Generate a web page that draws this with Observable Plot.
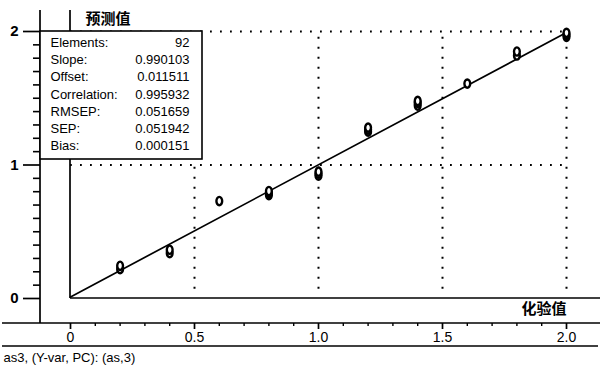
<!DOCTYPE html>
<html>
<head>
<meta charset="utf-8">
<script src="https://cdn.jsdelivr.net/npm/d3@7"></script>
<script src="https://cdn.jsdelivr.net/npm/@observablehq/plot@0.6"></script>
<style>
  html, body { margin: 0; padding: 0; background: #fff; }
</style>
</head>
<body>
<div id="chart"></div>
<script>
// ---- data ----
const measured  = [0.2, 0.2, 0.4, 0.4, 0.6, 0.8, 0.8, 0.8, 1.0, 1.0, 1.0, 1.2, 1.2, 1.2, 1.4, 1.4, 1.4, 1.6, 1.8, 1.8, 2.0, 2.0, 2.0];
const predicted = [0.22, 0.245, 0.34, 0.365, 0.73, 0.775, 0.79, 0.805, 0.92, 0.935, 0.95, 1.25, 1.265, 1.28, 1.445, 1.465, 1.48, 1.61, 1.82, 1.85, 1.96, 1.975, 1.99];

const statLabels = ["Elements:", "Slope:", "Offset:", "Correlation:", "RMSEP:", "SEP:", "Bias:"];
const statValues = ["92", "0.990103", "0.011511", "0.995932", "0.051659", "0.051942", "0.000151"];
const slope = 0.990103, offset = 0.011511;

const xMajor = [0, 0.5, 1.0, 1.5, 2.0];
const xMinor = [0.1,0.2,0.3,0.4,0.6,0.7,0.8,0.9,1.1,1.2,1.3,1.4,1.6,1.7,1.8,1.9];
const yMajor = [0, 1, 2];
const yMinor = [0.1,0.2,0.3,0.4,0.5,0.6,0.7,0.8,0.9,1.1,1.2,1.3,1.4,1.5,1.6,1.7,1.8,1.9];
const xGrid = [0.5, 1.0, 1.5, 2.0];
const yGrid = [1, 2];
const fitEnds = [0, 2];

const yTitle = "预测值";
const xTitle = "化验值";
const footer = "as3, (Y-var, PC): (as,3)";

const points = measured.map((m, i) => ({m, p: predicted[i]}));

const ellipse = {
  draw(ctx, size) {
    const r = Math.sqrt(size / Math.PI);
    const rx = r * 0.8, ry = r * 1.15, k = 0.5523;
    ctx.moveTo(rx, 0);
    ctx.bezierCurveTo(rx, ry * k, rx * k, ry, 0, ry);
    ctx.bezierCurveTo(-rx * k, ry, -rx, ry * k, -rx, 0);
    ctx.bezierCurveTo(-rx, -ry * k, -rx * k, -ry, 0, -ry);
    ctx.bezierCurveTo(rx * k, -ry, rx, -ry * k, rx, 0);
    ctx.closePath();
  }
};

function chrome(index, scales, values, dimensions) {
  const X = scales.x, Y = scales.y;
  const x0 = X(0), y0 = Y(0), W = dimensions.width;
  const g = d3.create("svg:g").attr("stroke", "black").attr("stroke-width", 1.7).attr("fill", "none");
  const seg = (a, b, c, d) => g.append("line").attr("x1", a).attr("y1", b).attr("x2", c).attr("y2", d);
  seg(x0, 10, x0, y0);
  seg(x0, y0, W, y0);
  seg(x0 - 30, 10, x0 - 30, y0 + 25);
  seg(2, y0 + 25, W, y0 + 25);
  seg(2, y0 + 48, W - 2, y0 + 48);
  return g.node();
}

function statBox(index, scales, values, dimensions) {
  const X = scales.x, Y = scales.y;
  const g = d3.create("svg:g");
  g.append("rect")
    .attr("x", X(0) - 30).attr("y", Y(2))
    .attr("width", 162).attr("height", 128)
    .attr("fill", "white").attr("stroke", "black").attr("stroke-width", 1.6);
  return g.node();
}

const font = "Liberation Sans, Arial, sans-serif";
const cjk = "'Noto Sans CJK SC', sans-serif";

const marks = [
  Plot.ruleY(yGrid, {x1: 0, x2: 2, stroke: "black", strokeWidth: 2, strokeDasharray: "1.8,8.2"}),
  Plot.ruleX(xGrid, {y1: 0.07, y2: 2, stroke: "black", strokeWidth: 2, strokeDasharray: "1.8,8.2"}),
  chrome,
  Plot.axisY(yMajor, {anchor: "left", label: null, tickSize: 17, tickPadding: 5, dx: -30, fontSize: 15, fontWeight: "bold", fill: "black", strokeWidth: 1.7, tickFormat: d => String(d)}),
  Plot.axisY(yMinor, {anchor: "left", label: null, tickSize: 7, dx: -30, text: null, strokeWidth: 1.6}),
  Plot.axisX(xMajor, {anchor: "bottom", label: null, tickSize: 6, tickPadding: 3, dy: 25, fontSize: 14, fill: "black", strokeWidth: 1.7, tickFormat: d => d === 0 ? "0" : d.toFixed(1)}),
  Plot.axisX(xMinor, {anchor: "bottom", label: null, tickSize: 3, dy: 25, text: null, strokeWidth: 1.4}),
  Plot.line(fitEnds, {x: d => d, y: d => offset + slope * d, stroke: "black", strokeWidth: 1.7}),
  Plot.dot(points, {x: "m", y: "p", r: 3.6, symbol: ellipse, stroke: "black", strokeWidth: 2.4, fill: "white"}),
  statBox,
  ...statLabels.map((l, i) => Plot.text([l], {frameAnchor: "top-left", dx: -20, dy: 11 + i * 17.3, textAnchor: "start", lineAnchor: "middle", fontSize: 13, fill: "black", fontFamily: font, letterSpacing: "-0.3px"})),
  ...statValues.map((v, i) => Plot.text([v], {frameAnchor: "top-left", dx: 119, dy: 11 + i * 17.3, textAnchor: "end", lineAnchor: "middle", fontSize: 13, fill: "black", fontFamily: font})),
  Plot.text([yTitle], {frameAnchor: "top-left", dx: 15, dy: -12, textAnchor: "start", lineAnchor: "middle", fontSize: 15, fontWeight: "bold", fontFamily: cjk, fill: "black"}),
  Plot.text([xTitle], {frameAnchor: "bottom-right", dx: 0, dy: 11, textAnchor: "end", lineAnchor: "middle", fontSize: 15, fontWeight: "bold", fontFamily: cjk, fill: "black"}),
  Plot.text([footer], {frameAnchor: "bottom-left", dx: -67, dy: 59, textAnchor: "start", lineAnchor: "middle", fontSize: 13, fontFamily: font, fill: "black"})
];

const chart = Plot.plot({
  width: 600,
  height: 373,
  marginLeft: 70,
  marginRight: 34,
  marginTop: 31,
  marginBottom: 75,
  x: {domain: [0, 2]},
  y: {domain: [0, 2]},
  style: {fontFamily: font, background: "white", color: "black", overflow: "visible"},
  marks
});
document.getElementById("chart").appendChild(chart);
</script>
</body>
</html>
